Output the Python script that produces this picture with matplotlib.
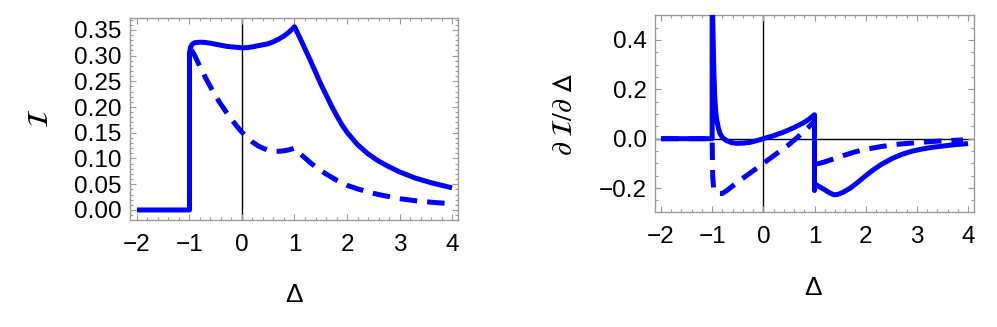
import matplotlib
matplotlib.use("Agg")
import matplotlib.pyplot as plt
from matplotlib.ticker import MultipleLocator, FuncFormatter

plt.rcParams['font.family'] = ['Liberation Sans', 'DejaVu Sans']
plt.rcParams['mathtext.fontset'] = 'stix'
plt.rcParams['axes.unicode_minus'] = True

# ---- Left panel: I(Delta) ----
left_solid_x = [-2.0, -1.0, -1.0, -0.98, -0.95, -0.9, -0.8, -0.7, -0.6, -0.5, -0.4, -0.3, -0.2, -0.1,
                0.0, 0.1, 0.2, 0.3, 0.4, 0.5, 0.6, 0.7, 0.8, 0.9, 1.0,
                1.1, 1.2, 1.3, 1.4, 1.5, 1.6, 1.7, 1.8, 1.9, 2.0, 2.2, 2.4, 2.6, 2.8, 3.0, 3.3, 3.6, 4.0]
left_solid_y = [0.0, 0.0, 0.305, 0.316, 0.322, 0.325, 0.326, 0.3255, 0.324, 0.322, 0.320, 0.318, 0.317, 0.316,
                0.315, 0.3155, 0.317, 0.319, 0.321, 0.323, 0.327, 0.332, 0.338, 0.346, 0.356,
                0.335, 0.313, 0.291, 0.268, 0.245, 0.224, 0.203, 0.184, 0.166, 0.151, 0.127, 0.109,
                0.095, 0.084, 0.074, 0.062, 0.053, 0.043]

left_dash_x = [-0.96, -0.9, -0.8, -0.7, -0.6, -0.5, -0.4, -0.3, -0.2, -0.1, 0.0, 0.1, 0.2, 0.3, 0.4,
               0.5, 0.6, 0.7, 0.8, 0.9, 1.0, 1.1, 1.2, 1.3, 1.4, 1.5, 1.6, 1.7, 1.8, 2.0, 2.2, 2.4,
               2.6, 2.8, 3.0, 3.3, 3.6, 4.0]
left_dash_y = [0.311, 0.300, 0.278, 0.258, 0.239, 0.221, 0.205, 0.190, 0.176, 0.163, 0.151, 0.141, 0.132,
               0.125, 0.120, 0.116, 0.114, 0.114, 0.115, 0.117, 0.120, 0.110, 0.101, 0.092, 0.084, 0.077,
               0.070, 0.064, 0.058, 0.048, 0.041, 0.035, 0.030, 0.026, 0.022, 0.018, 0.015, 0.012]

# ---- Right panel: dI/dDelta ----
right_solid_x = [-2.0, -1.0, -1.0, -0.985, -0.97, -0.95, -0.93, -0.91, -0.88, -0.85, -0.8, -0.72, -0.62,
                 -0.52, -0.4, -0.26, -0.13, 0.0, 0.2, 0.4, 0.6, 0.8, 0.9, 1.0,
                 1.0, 1.02, 1.1, 1.2, 1.3, 1.38, 1.45, 1.55, 1.7, 1.85, 2.0, 2.15, 2.3, 2.5, 2.7,
                 2.9, 3.1, 3.3, 3.5, 3.75, 4.0]
right_solid_y = [0.0, 0.0, 0.6, 0.45, 0.30, 0.17, 0.11, 0.075, 0.045, 0.022, 0.005, -0.008, -0.016,
                 -0.019, -0.018, -0.015, -0.008, 0.0, 0.012, 0.027, 0.045, 0.066, 0.080, 0.097,
                 -0.21, -0.185, -0.195, -0.207, -0.220, -0.227, -0.226, -0.218, -0.200, -0.176, -0.150,
                 -0.126, -0.105, -0.082, -0.064, -0.051, -0.042, -0.035, -0.030, -0.024, -0.020]

right_dash_x = [-2.0, -1.0, -0.99, -0.97, -0.93, -0.88, -0.8, -0.7, -0.5, -0.25, 0.0, 0.25, 0.5, 0.75,
                1.0, 1.0, 1.2, 1.4, 1.6, 1.8, 2.0, 2.3, 2.6, 3.0, 3.4, 3.9]
right_dash_y = [0.0, 0.0, -0.15, -0.205, -0.218, -0.222, -0.222, -0.208, -0.175, -0.138, -0.100, -0.062,
                -0.024, 0.020, 0.070, -0.105, -0.094, -0.080, -0.066, -0.053, -0.043, -0.032, -0.023,
                -0.016, -0.010, -0.005]

x_ticks = [-2, -1, 0, 1, 2, 3, 4]
left_y_ticks = [0.0, 0.05, 0.10, 0.15, 0.20, 0.25, 0.30, 0.35]
right_y_ticks = [-0.2, 0.0, 0.2, 0.4]

BLUE = '#0000FF'
FRAME = '#9a9a9a'
LW = 3.6
DASH = (3.5, 2.0)

fig = plt.figure(figsize=(9.97, 3.27), dpi=100)
axL = fig.add_axes([130/997, 1-220/327, 328/997, 202/327])
axR = fig.add_axes([655/997, 1-212/327, 319/997, 197/327])


def style(ax, xmin, xmax, ymin, ymax, ymaj, ymin_step, yfmt):
    ax.set_xlim(xmin, xmax)
    ax.set_ylim(ymin, ymax)
    ax.xaxis.set_major_locator(MultipleLocator(1))
    ax.xaxis.set_minor_locator(MultipleLocator(0.2))
    ax.yaxis.set_major_locator(MultipleLocator(ymaj))
    ax.yaxis.set_minor_locator(MultipleLocator(ymin_step))
    ax.yaxis.set_major_formatter(FuncFormatter(
        lambda v, p: (yfmt % v).replace('-', '\u2212') if abs(v) > 1e-9 else yfmt % 0))
    ax.xaxis.set_major_formatter(FuncFormatter(lambda v, p: ('%d' % round(v)).replace('-', '\u2212')))
    for s in ax.spines.values():
        s.set_color(FRAME)
        s.set_linewidth(1.0)
    ax.tick_params(which='both', direction='in', top=True, right=True, color=FRAME, width=0.8)
    ax.tick_params(which='major', length=4.5, labelsize=17.5, pad=6, labelcolor='black')
    ax.tick_params(which='minor', length=2.2)
    ax.tick_params(axis='x', which='major', pad=10)


style(axL, -2.133, 4.114, -0.0195, 0.373, 0.05, 0.01, '%.2f')
axL.axvline(0, color='black', lw=1.0, zorder=1)
axL.plot(left_solid_x, left_solid_y, color=BLUE, lw=LW, solid_joinstyle='round', solid_capstyle='butt', zorder=3)
axL.plot(left_dash_x, left_dash_y, color=BLUE, lw=LW, ls=(0, DASH), dash_capstyle='butt', zorder=3)
axL.set_xticks(x_ticks)
axL.set_yticks(left_y_ticks)
axL.text(0.5, -0.371, '\u0394', transform=axL.transAxes, ha='center', va='center', fontsize=19)
axL.text(-0.274, 0.505, r'$\mathcal{I}$', transform=axL.transAxes, ha='center', va='center',
         fontsize=21, rotation=90)

style(axR, -2.117, 4.117, -0.297, 0.501, 0.2, 0.05, '%.1f')
axR.axvline(0, color='black', lw=1.0, zorder=1)
axR.axhline(0, color='black', lw=1.0, zorder=1)
axR.plot(right_solid_x, right_solid_y, color=BLUE, lw=LW, solid_joinstyle='round', solid_capstyle='butt', zorder=3)
axR.plot(right_dash_x, right_dash_y, color=BLUE, lw=LW, ls=(0, DASH), dash_capstyle='butt', zorder=3)
axR.set_xticks(x_ticks)
axR.set_yticks(right_y_ticks)
axR.text(0.495, -0.386, '\u0394', transform=axR.transAxes, ha='center', va='center', fontsize=19)
axR.text(-0.282, 0.492, r'$\partial\ \mathcal{I}/\partial\ \mathsf{\Delta}$', transform=axR.transAxes,
         ha='center', va='center', fontsize=20, rotation=90)

fig.savefig('out.png', dpi=100)
